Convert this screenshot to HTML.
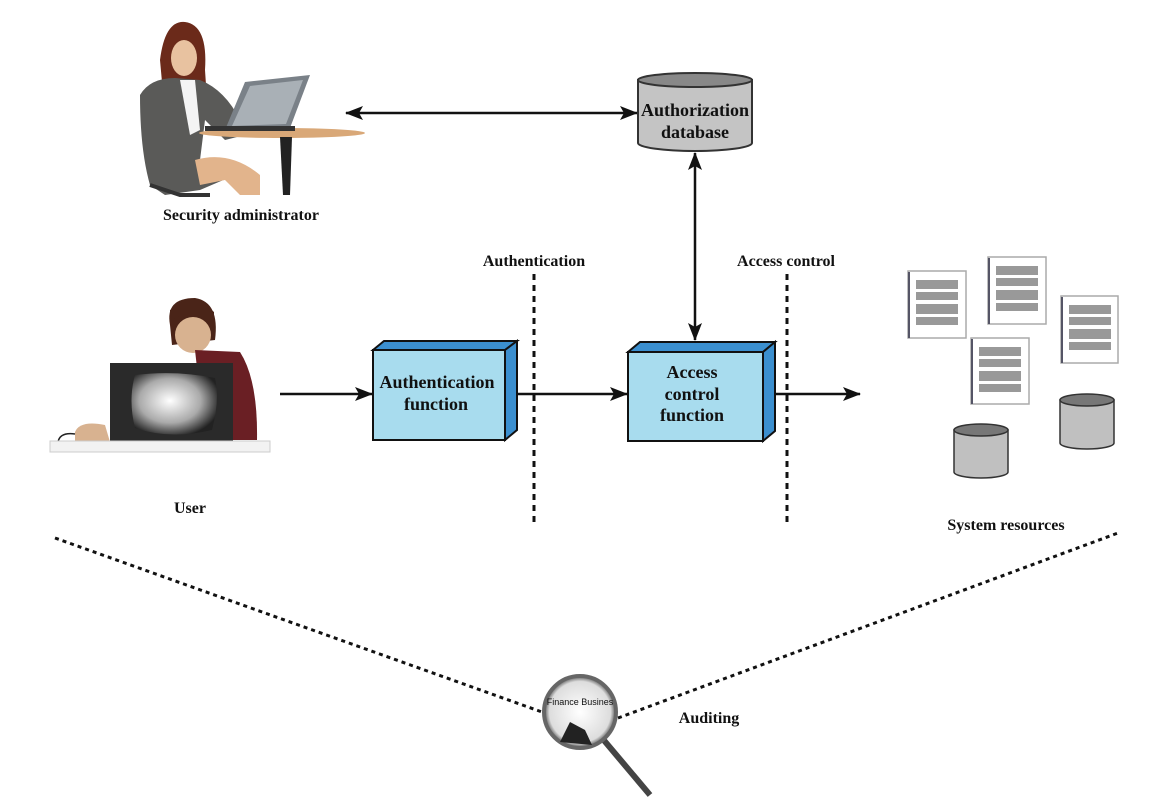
<!DOCTYPE html>
<html><head><meta charset="utf-8"><style>
html,body{margin:0;padding:0;background:#fff;}
svg{display:block}
text{font-family:"Liberation Serif",serif;font-weight:bold;fill:#111}
</style></head><body>
<svg width="1160" height="812" viewBox="0 0 1160 812" xmlns="http://www.w3.org/2000/svg">
<defs>
<marker id="ah" markerWidth="18" markerHeight="14" refX="17" refY="7" orient="auto-start-reverse" markerUnits="userSpaceOnUse" viewBox="0 0 18 14"><path d="M0,0 L18,7 L0,14 L4,7 z" fill="#111"/></marker>
<radialGradient id="scr" cx="0.45" cy="0.45" r="0.6"><stop offset="0" stop-color="#fff"/><stop offset="0.6" stop-color="#aaa"/><stop offset="1" stop-color="#222"/></radialGradient>
<radialGradient id="mag" cx="0.5" cy="0.5" r="0.5"><stop offset="0" stop-color="#fff"/><stop offset="0.85" stop-color="#ddd"/><stop offset="1" stop-color="#555"/></radialGradient>
</defs>

<g>
<path d="M160,60 Q165,20 185,22 Q208,25 205,70 L208,115 L165,115 Z" fill="#6b2a1a"/>
<ellipse cx="184" cy="58" rx="13" ry="18" fill="#e8c2a0"/>
<path d="M140,95 Q150,78 175,78 L200,80 Q225,90 240,120 L245,135 L225,140 L205,120 L200,160 L235,175 L200,190 L165,195 L150,185 Q140,150 140,95 Z" fill="#5a5a58"/>
<path d="M180,80 L195,80 L200,130 L190,135 Z" fill="#f4f4f4"/>
<path d="M195,160 Q230,150 260,175 L260,195 L240,195 L225,180 L200,185 Z" fill="#e2b48c"/>
<path d="M245,82 L310,75 L290,128 L225,130 Z" fill="#7a8188"/>
<path d="M250,86 L303,80 L286,124 L232,126 Z" fill="#a9b0b6"/>
<ellipse cx="282" cy="133" rx="83" ry="5" fill="#d9a878"/>
<rect x="205" y="126" width="90" height="5" fill="#333"/>
<path d="M280,137 L292,137 L290,195 L283,195 Z" fill="#222"/>
<path d="M150,185 L180,195 L210,195" stroke="#333" stroke-width="4" fill="none"/>
</g>
<text x="241" y="220" font-size="16" text-anchor="middle">Security administrator</text>

<g>
<path d="M170,325 Q165,298 195,298 Q220,302 215,340 L172,345 Z" fill="#4a2418"/>
<ellipse cx="193" cy="335" rx="18" ry="18" fill="#d8b290"/>
<path d="M170,322 Q190,305 214,322 L214,312 Q195,295 170,310 Z" fill="#4a2418"/>
<path d="M195,350 L240,352 Q258,380 257,440 L205,440 Z" fill="#6a1f24"/>
<rect x="110" y="363" width="123" height="80" fill="#2a2a2a"/>
<path d="M135,375 Q175,370 215,378 Q220,400 212,430 Q170,440 135,428 Q128,400 135,375 Z" fill="url(#scr)"/>
<path d="M75,432 Q80,420 105,425 L110,442 L75,442 Z" fill="#d8b290"/>
<path d="M58,442 Q60,432 75,434" stroke="#222" fill="none" stroke-width="1.5"/>
<rect x="50" y="441" width="220" height="11" fill="#f2f2f2" stroke="#ccc"/>
</g>
<text x="190" y="513" font-size="16" text-anchor="middle">User</text>

<line x1="346" y1="113" x2="637" y2="113" stroke="#111" stroke-width="2.5" marker-start="url(#ah)" marker-end="url(#ah)"/>

<path d="M638,80 L638,143 A57,8 0 0 0 752,143 L752,80 Z" fill="#c4c4c4" stroke="#333" stroke-width="2"/>
<ellipse cx="695" cy="80" rx="57" ry="7" fill="#888" stroke="#333" stroke-width="2"/>
<text x="695" y="116" font-size="18" text-anchor="middle">Authorization</text>
<text x="695" y="138" font-size="18" text-anchor="middle">database</text>

<line x1="695" y1="153" x2="695" y2="340" stroke="#111" stroke-width="2.5" marker-start="url(#ah)" marker-end="url(#ah)"/>

<path d="M373,350 L384,341 L517,341 L505,350 Z" fill="#3b8fcf" stroke="#111" stroke-width="2"/>
<path d="M505,350 L517,341 L517,430 L505,440 Z" fill="#3b8fcf" stroke="#111" stroke-width="2"/>
<rect x="373" y="350" width="132" height="90" fill="#a8dcee" stroke="#111" stroke-width="2"/>
<text x="437" y="388" font-size="18" text-anchor="middle">Authentication</text>
<text x="436" y="410" font-size="18" text-anchor="middle">function</text>

<path d="M628,352 L640,342 L775,342 L763,352 Z" fill="#3b8fcf" stroke="#111" stroke-width="2"/>
<path d="M763,352 L775,342 L775,431 L763,441 Z" fill="#3b8fcf" stroke="#111" stroke-width="2"/>
<rect x="628" y="352" width="135" height="89" fill="#a8dcee" stroke="#111" stroke-width="2"/>
<text x="692" y="378" font-size="18" text-anchor="middle">Access</text>
<text x="692" y="400" font-size="18" text-anchor="middle">control</text>
<text x="692" y="421" font-size="18" text-anchor="middle">function</text>

<line x1="280" y1="394" x2="372" y2="394" stroke="#111" stroke-width="2.5" marker-end="url(#ah)"/>
<line x1="517" y1="394" x2="627" y2="394" stroke="#111" stroke-width="2.5" marker-end="url(#ah)"/>
<line x1="775" y1="394" x2="860" y2="394" stroke="#111" stroke-width="2.5" marker-end="url(#ah)"/>

<line x1="534" y1="274" x2="534" y2="526" stroke="#111" stroke-width="3" stroke-dasharray="6,5"/>
<line x1="787" y1="274" x2="787" y2="526" stroke="#111" stroke-width="3" stroke-dasharray="6,5"/>
<text x="534" y="266" font-size="16" text-anchor="middle">Authentication</text>
<text x="786" y="266" font-size="16" text-anchor="middle">Access control</text>

<g fill="#fff" stroke="#aaa" stroke-width="1.5">
<rect x="908" y="271" width="58" height="67"/>
<rect x="988" y="257" width="58" height="67"/>
<rect x="1061" y="296" width="57" height="67"/>
<rect x="971" y="338" width="58" height="66"/>
</g>
<g stroke="#556" stroke-width="2">
<line x1="909" y1="272" x2="909" y2="338"/><line x1="989" y1="258" x2="989" y2="324"/>
<line x1="1062" y1="297" x2="1062" y2="363"/><line x1="972" y1="339" x2="972" y2="404"/>
</g>
<g fill="#999">
<rect x="916" y="280" width="42" height="9"/><rect x="916" y="292" width="42" height="8"/><rect x="916" y="304" width="42" height="10"/><rect x="916" y="317" width="42" height="8"/>
<rect x="996" y="266" width="42" height="9"/><rect x="996" y="278" width="42" height="8"/><rect x="996" y="290" width="42" height="10"/><rect x="996" y="303" width="42" height="8"/>
<rect x="1069" y="305" width="42" height="9"/><rect x="1069" y="317" width="42" height="8"/><rect x="1069" y="329" width="42" height="10"/><rect x="1069" y="342" width="42" height="8"/>
<rect x="979" y="347" width="42" height="9"/><rect x="979" y="359" width="42" height="8"/><rect x="979" y="371" width="42" height="10"/><rect x="979" y="384" width="42" height="8"/>
</g>
<path d="M954,430 L954,472 A27,6 0 0 0 1008,472 L1008,430 Z" fill="#c0c0c0" stroke="#333" stroke-width="1.5"/>
<ellipse cx="981" cy="430" rx="27" ry="6" fill="#777" stroke="#333" stroke-width="1.5"/>
<path d="M1060,400 L1060,443 A27,6 0 0 0 1114,443 L1114,400 Z" fill="#c0c0c0" stroke="#333" stroke-width="1.5"/>
<ellipse cx="1087" cy="400" rx="27" ry="6" fill="#777" stroke="#333" stroke-width="1.5"/>
<text x="1006" y="530" font-size="16" text-anchor="middle">System resources</text>

<line x1="55" y1="538" x2="542" y2="712" stroke="#111" stroke-width="3" stroke-dasharray="4,4"/>
<line x1="618" y1="718" x2="1118" y2="533" stroke="#111" stroke-width="3" stroke-dasharray="4,4"/>
<line x1="602" y1="738" x2="650" y2="795" stroke="#444" stroke-width="6"/>
<circle cx="580" cy="712" r="36" fill="url(#mag)" stroke="#666" stroke-width="4"/>
<text x="580" y="705" font-size="9" text-anchor="middle" fill="#555" style="font-family:'Liberation Sans',sans-serif;font-weight:normal">Finance Busines</text>
<path d="M560,742 L570,722 L585,730 L592,745 Z" fill="#222"/>
<text x="709" y="723" font-size="16" text-anchor="middle">Auditing</text>
</svg>
</body></html>
